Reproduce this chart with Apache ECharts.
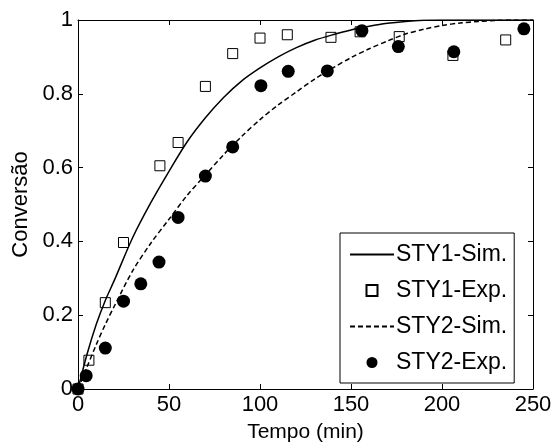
<!DOCTYPE html>
<html>
<head>
<meta charset="utf-8">
<script src="https://cdn.jsdelivr.net/npm/echarts@6/dist/echarts.min.js"></script>
<style>
    html, body { margin: 0; padding: 0; background: #fff; }
    #chart { width: 558px; height: 448px; }
</style>
</head>
<body>
<div id="chart"></div>
<script>
// simulated curves
var simTime = [0, 5, 10, 15, 20, 30, 40, 50, 60, 70, 80, 90, 100, 110, 120, 130, 140, 150, 160, 170, 180, 190, 200, 210, 220, 230, 240, 250];
var sty1Sim = [0, 0.095, 0.175, 0.24, 0.295, 0.41, 0.505, 0.59, 0.67, 0.735, 0.79, 0.835, 0.87, 0.9, 0.925, 0.945, 0.96, 0.973, 0.983, 0.991, 0.996, 0.999, 1, 1, 1, 1, 1, 1];
var sty2Sim = [0, 0.06, 0.12, 0.175, 0.225, 0.32, 0.395, 0.46, 0.525, 0.58, 0.635, 0.685, 0.73, 0.77, 0.805, 0.84, 0.87, 0.898, 0.922, 0.943, 0.962, 0.975, 0.985, 0.992, 0.996, 0.999, 1, 1];

// experimental points
var sty1ExpTime = [0, 6, 15, 25, 45, 55, 70, 85, 100, 115, 139, 155, 176.5, 206, 235];
var sty1ExpVal = [0, 0.078, 0.234, 0.397, 0.605, 0.668, 0.82, 0.909, 0.951, 0.96, 0.953, 0.968, 0.955, 0.904, 0.946];
var sty2ExpTime = [0, 4.5, 15, 25, 34.5, 44.5, 55, 70, 85, 100.5, 115.5, 137, 156, 176, 206.5, 245];
var sty2ExpVal = [0, 0.036, 0.111, 0.238, 0.285, 0.344, 0.465, 0.577, 0.656, 0.822, 0.861, 0.862, 0.971, 0.928, 0.914, 0.976];

var seriesNames = ['STY1-Sim.', 'STY1-Exp.', 'STY2-Sim.', 'STY2-Exp.'];

function pairs(xs, ys) {
    var out = [];
    for (var i = 0; i < xs.length; i++) {
        out.push([xs[i], ys[i]]);
    }
    return out;
}

var font = "'Liberation Sans', Arial, sans-serif";
var myChart = echarts.init(document.getElementById('chart'));

var boxAxis = {
    type: 'value',
    axisLine: { show: true, onZero: false, lineStyle: { color: '#000', width: 1 } },
    axisTick: { show: true, inside: true, length: 5, lineStyle: { color: '#000' } },
    splitLine: { show: false }
};

var option = {
    backgroundColor: '#fff',
    animation: false,
    textStyle: { fontFamily: font },
    grid: { left: 78, right: 25, top: 20, bottom: 56 },
    xAxis: [
        echarts.util.merge({
            position: 'bottom', min: 0, max: 250, interval: 50,
            name: 'Tempo (min)', nameLocation: 'middle', nameGap: 33,
            nameTextStyle: { color: '#000', fontSize: 21, fontFamily: font },
            axisLabel: { color: '#000', fontSize: 22, margin: 5, fontFamily: font }
        }, boxAxis, true),
        echarts.util.merge({
            position: 'top', min: 0, max: 250, interval: 50,
            axisLabel: { show: false }
        }, boxAxis, true)
    ],
    yAxis: [
        echarts.util.merge({
            position: 'left', min: 0, max: 1, interval: 0.2,
            name: 'Conversão', nameLocation: 'middle', nameGap: 46,
            nameTextStyle: { color: '#000', fontSize: 22, fontFamily: font },
            axisLabel: { color: '#000', fontSize: 22, margin: 5, fontFamily: font }
        }, boxAxis, true),
        echarts.util.merge({
            position: 'right', min: 0, max: 1, interval: 0.2,
            axisLabel: { show: false }
        }, boxAxis, true)
    ],
    legend: {
        orient: 'vertical',
        left: 340,
        top: 233,
        padding: [10, 7, 9, 9],
        itemGap: 13,
        itemWidth: 44,
        itemHeight: 11,
        symbolKeepAspect: true,
        borderColor: '#000',
        borderWidth: 1,
        backgroundColor: '#fff',
        textStyle: { color: '#000', fontSize: 23, fontFamily: font, padding: [0, 0, 0, -3] },
        data: [
            { name: seriesNames[0], itemStyle: { opacity: 0 } },
            { name: seriesNames[1], icon: 'path://M0,0h10v10h-10z' },
            { name: seriesNames[2], itemStyle: { opacity: 0 } },
            { name: seriesNames[3], icon: 'circle' }
        ]
    },
    series: [
        {
            name: seriesNames[0],
            type: 'line',
            data: pairs(simTime, sty1Sim),
            symbol: 'none',
            smooth: 0.3,
            lineStyle: { color: '#000', width: 1.5, type: 'solid' },
            itemStyle: { color: '#000' }
        },
        {
            name: seriesNames[1],
            type: 'scatter',
            data: pairs(sty1ExpTime, sty1ExpVal),
            symbol: 'rect',
            symbolSize: 10,
            itemStyle: { color: '#fff', borderColor: '#000', borderWidth: 1, opacity: 1 }
        },
        {
            name: seriesNames[2],
            type: 'line',
            data: pairs(simTime, sty2Sim),
            symbol: 'none',
            smooth: 0.3,
            lineStyle: { color: '#000', width: 1.5, type: [5, 3] },
            itemStyle: { color: '#000' }
        },
        {
            name: seriesNames[3],
            type: 'scatter',
            data: pairs(sty2ExpTime, sty2ExpVal),
            symbol: 'circle',
            symbolSize: 13,
            itemStyle: { color: '#000', opacity: 1 }
        }
    ]
};

myChart.setOption(option);
</script>
</body>
</html>
